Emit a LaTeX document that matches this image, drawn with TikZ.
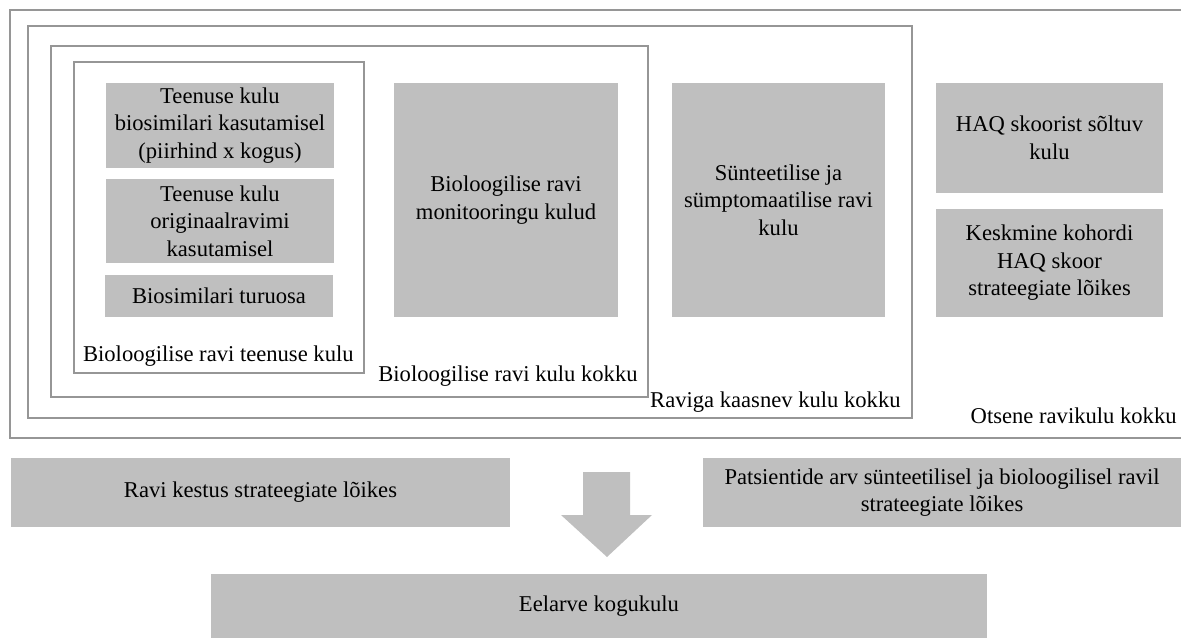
\documentclass[tikz,border=0pt]{standalone}
\usepackage{fontspec}
\setmainfont{Liberation Serif}
\definecolor{boxgrey}{RGB}{191,191,191}
\definecolor{framegrey}{RGB}{150,150,150}
\tikzset{
  costbox/.style={fill=boxgrey, draw=none, inner sep=0pt, align=center},
  frame/.style={draw=framegrey, line width=0.65pt, inner sep=0pt},
  framelabel/.style={anchor=base east, inner sep=0pt}
}
\begin{document}
\begin{tikzpicture}[x=0.5pt, y=-0.5pt, font=\fontsize{11.3}{13.75}\selectfont]
        \useasboundingbox (0,0) rectangle (1181,641);
        % nested cost frames
        \node[frame, minimum width=592.5pt, minimum height=214pt] (direct) at (602.5,224) {};
        \node[frame, minimum width=442pt, minimum height=196pt] (treat) at (470,222) {};
        \node[frame, minimum width=298.5pt, minimum height=175.5pt] (biotot) at (349.5,221.5) {};
        \node[frame, minimum width=145pt, minimum height=155.5pt] (bioserv) at (219,217.5) {};
        \node[framelabel] (bioservlbl) at (354,361) {Bioloogilise ravi teenuse kulu};
        \node[framelabel] (biototlbl) at (638,381) {Bioloogilise ravi kulu kokku};
        \node[framelabel] (treatlbl) at (901,407) {Raviga kaasnev kulu kokku};
        \node[framelabel] (directlbl) at (1177,423) {Otsene ravikulu kokku};
        % grey cost items
        \node[costbox, minimum width=114pt, minimum height=42.5pt] (biosim) at (220,125.5)
            {Teenuse kulu\\biosimilari kasutamisel\\(piirhind x kogus)};
        \node[costbox, minimum width=114pt, minimum height=42pt] (orig) at (220,221)
            {Teenuse kulu\\originaalravimi\\kasutamisel};
        \node[costbox, minimum width=114pt, minimum height=21pt] (share) at (219,296)
            {Biosimilari turuosa};
        \node[costbox, minimum width=112pt, minimum height=117pt] (monitor) at (506,200)
            {Bioloogilise ravi\\monitooringu kulud};
        \node[costbox, minimum width=106.5pt, minimum height=117pt] (synth) at (778.5,200)
            {Sünteetilise ja\\sümptomaatilise ravi\\kulu};
        \node[costbox, minimum width=113.5pt, minimum height=55pt] (haqcost) at (1049.5,138)
            {HAQ skoorist sõltuv\\kulu};
        \node[costbox, minimum width=113.5pt, minimum height=54pt] (haqscore) at (1049.5,263)
            {Keskmine kohordi\\HAQ skoor\\strateegiate lõikes};
        % inputs and total
        \node[costbox, minimum width=249.5pt, minimum height=34.5pt] (duration) at (260.5,492.5)
            {Ravi kestus strateegiate lõikes};
        \node[costbox, minimum width=239pt, minimum height=34.5pt] (patients) at (942,492.5)
            {Patsientide arv sünteetilisel ja bioloogilisel ravil\\strateegiate lõikes};
        \node[costbox, minimum width=388pt, minimum height=32pt] (budget) at (599,606)
            {Eelarve kogukulu};
        \fill[boxgrey] (583,472) -- (630,472) -- (630,515) -- (652,515) -- (607,557)
            -- (561,515) -- (583,515) -- cycle;
    \end{tikzpicture}
\end{document}
